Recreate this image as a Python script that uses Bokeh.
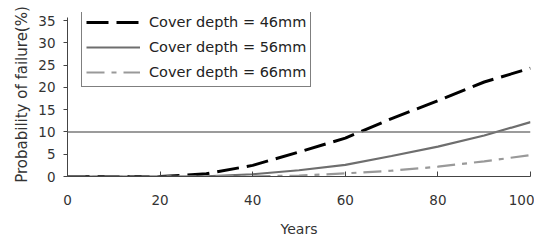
from bokeh.plotting import figure
from bokeh.models import Span, Legend, LegendItem, Range1d
from bokeh.embed import file_html
from bokeh.resources import INLINE

years = [0, 10, 20, 30, 40, 50, 60, 70, 80, 90, 100]
p46 = [0, 0, 0, 0.6, 2.5, 5.5, 8.6, 13.0, 17.0, 21.2, 24.3]
p56 = [0, 0, 0, 0.05, 0.5, 1.4, 2.6, 4.6, 6.7, 9.2, 12.2]
p66 = [0, 0, 0, 0, 0.05, 0.2, 0.7, 1.3, 2.2, 3.4, 4.8]
labels = ["Cover depth = 46mm", "Cover depth = 56mm", "Cover depth = 66mm"]
threshold = 10

FONT = "DejaVu Sans"

p = figure(frame_width=463, frame_height=164, output_backend="svg", toolbar_location=None,
           x_range=Range1d(0, 100), y_range=Range1d(0, 35 * 164 / 156),
           min_border_left=67, min_border_right=4, min_border_top=12, min_border_bottom=56)
p.outline_line_color = None
p.xgrid.visible = False
p.ygrid.visible = False

r1 = p.line(years, p46, line_color="black", line_width=3, line_dash="22 8")
r2 = p.line(years, p56, line_color="#6e6e6e", line_width=2.2)
r3 = p.line(years, p66, line_color="#999999", line_width=2.2, line_dash="18 7 5 7")

p.add_layout(Span(location=threshold, dimension="width", line_color="#7a7a7a", line_width=1.5))

for ax in (p.xaxis[0], p.yaxis[0]):
    ax.axis_line_color = "#444444"
    ax.major_tick_line_color = "#444444"
    ax.minor_tick_line_color = None
    ax.major_label_text_font = FONT
    ax.major_label_text_font_size = "13.5px"
    ax.major_label_text_color = "#333333"
    ax.axis_label_text_font = FONT
    ax.axis_label_text_font_size = "14px"
    ax.axis_label_text_font_style = "normal"
    ax.axis_label_text_color = "#333333"

p.yaxis.axis_label_text_font_size = "15px"
p.yaxis.bounds = (0, 35.7)
p.xaxis.ticker = [0, 20, 40, 60, 80, 100]
p.yaxis.ticker = [0, 5, 10, 15, 20, 25, 30, 35]
p.xaxis.major_tick_in = 5
p.xaxis.major_tick_out = 0
p.yaxis.major_tick_in = 0
p.yaxis.major_tick_out = 4
p.xaxis.major_label_standoff = 18
p.yaxis.major_label_standoff = 8
p.xaxis.axis_label = "Years"
p.yaxis.axis_label = "Probability of failure(%)"
p.xaxis.axis_label_standoff = 13
p.yaxis.axis_label_standoff = 4

legend = Legend(items=[LegendItem(label=labels[0], renderers=[r1]),
                       LegendItem(label=labels[1], renderers=[r2]),
                       LegendItem(label=labels[2], renderers=[r3])],
                location=(14, 89), orientation="vertical")
legend.border_line_color = "black"
legend.border_line_width = 1
legend.background_fill_alpha = 1
legend.label_text_font = FONT
legend.label_text_font_size = "14.5px"
legend.label_text_color = "#222222"
legend.glyph_width = 54
legend.glyph_height = 20
legend.label_height = 20
legend.spacing = 5
legend.padding = 4
legend.margin = 0
legend.label_standoff = 9
p.add_layout(legend, "center")

open("out.html", "w").write(file_html(p, INLINE))
